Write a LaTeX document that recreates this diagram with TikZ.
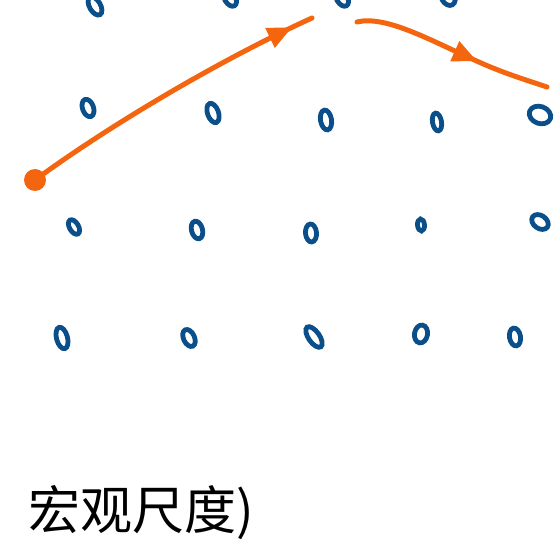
\documentclass[tikz,border=0pt]{standalone}
\usepackage{fontspec}
\newfontfamily\cjk{Noto Sans CJK SC}
\usetikzlibrary{decorations.markings,arrows.meta}
\definecolor{dotblue}{HTML}{0B4F8A}
\definecolor{penorange}{HTML}{F4650F}
\tikzset{
  blob/.style={draw=dotblue,line width=4.8pt},
  pen/.style={draw=penorange,line width=5pt,line cap=round,line join=round},
  midarrow/.style={postaction={decorate,decoration={markings,
      mark=at position #1 with {\arrow[penorange,line width=1pt]{Triangle[length=24pt,width=22pt]}}}}}
}
\begin{document}
\begin{tikzpicture}[x=1pt,y=-1pt]
\useasboundingbox (0,0) rectangle (558,548);
% blobs
\foreach \x/\y/\r/\a/\b in {
  95/6/-60/5.5/10, 230/-2/-60/5.5/9, 342/-2/-60/5.5/9, 448/-3/-60/6.5/9,
  88/108/-70/5.5/9, 213/113/-70/5.5/10, 326/120/-80/5.5/10, 437/122/-80/4.5/9, 540/115/-20/8.5/11,
  74/227/-60/4.5/8, 197/230/-75/5.5/9, 311/233/-85/5.5/9, 421/225/-85/3.5/6, 540/222/-35/6.5/9,
  62/338/-75/5.5/11, 189/338/-65/5.5/9, 314/337/-55/5.5/12, 421/334/-100/6.5/9, 515/337/-80/5.5/9}
  {\draw[blob,rotate around={\r:(\x,\y)}] (\x,\y) ellipse ({\b pt} and {\a pt});}
% orange pen strokes
\node[circle,fill=penorange,inner sep=0pt,minimum size=22pt] (start) at (35,180) {};
\coordinate (top1) at (312,18);
\coordinate (s2) at (357,22);
\coordinate (e2) at (547,87);
\draw[pen,midarrow=0.93] (start.center) .. controls (110,125) and (220,60) .. (top1);
\draw[pen,midarrow=0.63] (s2) .. controls (385,15) and (430,40) .. (470,58) .. controls (500,72) and (520,78) .. (e2);
% handwritten label
\node[anchor=base west,inner sep=0pt,font=\cjk\fontsize{52}{56}\selectfont] (label) at (28,530) {宏观尺度)};
\end{tikzpicture}
\end{document}
